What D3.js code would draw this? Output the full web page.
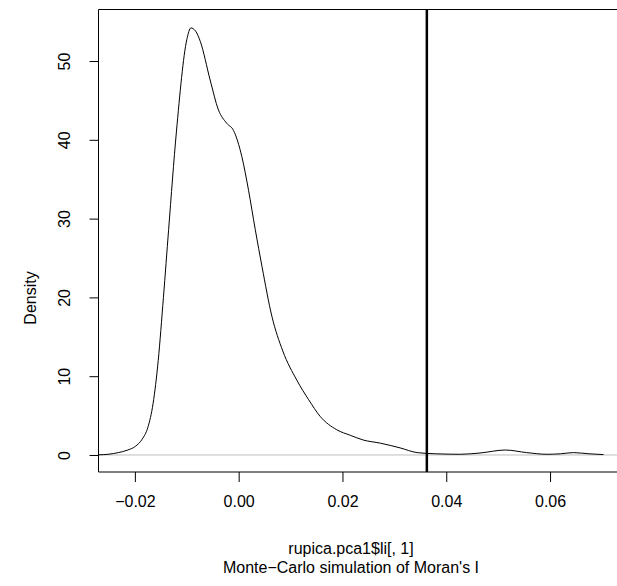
<!DOCTYPE html>
<html>
<head>
<meta charset="utf-8">
<script src="https://cdn.jsdelivr.net/npm/d3@7"></script>
<style>
  body { margin: 0; background: #fff; }
  svg { display: block; font-family: "Liberation Sans", Arial, sans-serif; }
</style>
</head>
<body>
<svg></svg>
<script>
// density of the simulated Moran's I values
const simX = [-0.0270, -0.0250, -0.0232, -0.0215, -0.0199, -0.0186, -0.0175, -0.0165, -0.0155, -0.0145,
  -0.0135, -0.0120, -0.0100, -0.0092, -0.0083, -0.0074, -0.0055, -0.0039, -0.0023, -0.0010,
  0.0006, 0.0019, 0.0032, 0.0045, 0.0064, 0.0085, 0.0112, 0.0135, 0.0157, 0.0189,
  0.0215, 0.0240, 0.0273, 0.0311, 0.0344, 0.0380, 0.0427, 0.0465, 0.0514, 0.0555,
  0.0594, 0.0620, 0.0645, 0.0675, 0.0703]
const simDensity = [0.02, 0.1, 0.3, 0.6, 1.1, 2.0, 3.5, 6.5, 12, 20,
  28.6, 41, 52.7, 54.2, 53.8, 52.5, 47.6, 43.8, 42.1, 41.2,
  37.9, 33.6, 28.6, 23.9, 17.6, 13.2, 9.5, 7.0, 4.9, 3.2,
  2.5, 1.9, 1.5, 0.9, 0.3, 0.15, 0.09, 0.25, 0.63, 0.3,
  0.09, 0.15, 0.3, 0.15, 0.05]
const observed = 0.03626

const xTicks = [-0.02, 0.00, 0.02, 0.04, 0.06]
const yTicks = [0, 10, 20, 30, 40, 50]

const
    svgWidth = 617,
    svgHeight = 586,
    LEFT = 98.5,
    RIGHT = 624,   // box runs past the right edge, as in the picture
    TOP = 9.5,
    BOTTOM = 472

let svg = d3.select('svg')
    .attr('width', svgWidth)
    .attr('height', svgHeight)

let x = d3.scaleLinear()
    .domain([-0.02701, 0.07425])
    .range([LEFT, RIGHT])

let y = d3.scaleLinear()
    .domain([-2.16, 56.54])
    .range([BOTTOM, TOP])

// grey baseline at 0
svg.append('line')
    .attr('x1', LEFT).attr('x2', RIGHT)
    .attr('y1', y(0)).attr('y2', y(0))
    .attr('stroke', '#bebebe')
    .attr('stroke-width', 1)

let points = simX.map((d, i) => [d, simDensity[i]])

svg.append('path')
    .datum(points)
    .attr('fill', 'none')
    .attr('stroke', '#000')
    .attr('stroke-width', 1)
    .attr('d', d3.line()
        .x(d => x(d[0]))
        .y(d => y(d[1]))
        .curve(d3.curveMonotoneX))

// observed value
svg.append('line')
    .attr('x1', x(observed)).attr('x2', x(observed))
    .attr('y1', TOP).attr('y2', BOTTOM)
    .attr('stroke', '#000')
    .attr('stroke-width', 2.5)

// axes
let xAxis = d3.axisBottom(x)
    .tickValues(xTicks)
    .tickFormat(d3.format('.2f'))
    .tickSize(10)
    .tickPadding(14)

let yAxis = d3.axisLeft(y)
    .tickValues(yTicks)
    .tickSize(9)
    .tickSizeOuter(0)

let gx = svg.append('g')
    .attr('transform', `translate(0, ${BOTTOM})`)
    .call(xAxis)
gx.select('.domain').remove()
gx.selectAll('text')
    .attr('font-size', 16)
    .attr('fill', '#000')
    .text(d => d3.format('.2f')(d).replace('-', '\u2212'))

let gy = svg.append('g')
    .attr('transform', `translate(${LEFT}, 0)`)
    .call(yAxis)
gy.select('.domain').remove()
gy.selectAll('text')
    .attr('font-size', 16)
    .attr('fill', '#000')
    .attr('x', 0)
    .attr('dy', 0)
    .attr('text-anchor', 'middle')
    .attr('transform', 'translate(-29, 0) rotate(-90)')

// box: left, top, bottom
svg.append('path')
    .attr('d', `M${RIGHT},${TOP}H${LEFT}V${BOTTOM}H${RIGHT}`)
    .attr('fill', 'none')
    .attr('stroke', '#000')
    .attr('stroke-width', 1)

// labels
svg.append('text')
    .attr('x', 351).attr('y', 554)
    .attr('text-anchor', 'middle')
    .attr('font-size', 16)
    .text('rupica.pca1$li[, 1]')

svg.append('text')
    .attr('x', 351).attr('y', 573)
    .attr('text-anchor', 'middle')
    .attr('font-size', 16)
    .text("Monte\u2212Carlo simulation of Moran's I")

svg.append('text')
    .attr('transform', 'translate(36, 298) rotate(-90)')
    .attr('text-anchor', 'middle')
    .attr('font-size', 16)
    .text('Density')
</script>
</body>
</html>
